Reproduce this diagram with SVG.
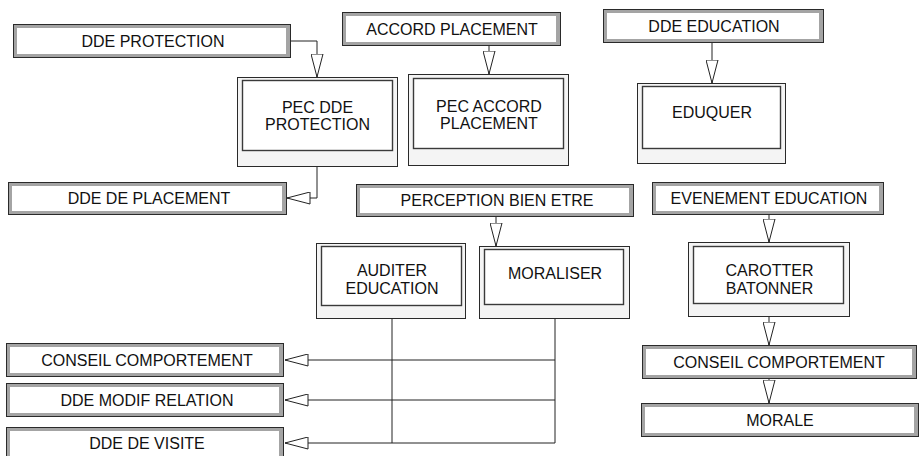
<svg xmlns="http://www.w3.org/2000/svg" width="922" height="456" viewBox="0 0 922 456">
<style>
.ev-o{fill:#a4a4a4;stroke:#2a2a2a;stroke-width:1}
.ev-i{fill:#ffffff;stroke:none}
.pr-o{fill:#f4f4f4;stroke:#2a2a2a;stroke-width:1}
.pr-i{fill:#ffffff;stroke:#3a3a3a;stroke-width:1.4}
text{font-family:"Liberation Sans",Arial,sans-serif;font-size:16px;fill:#111;text-anchor:middle}
.ln{fill:none;stroke:#222;stroke-width:1}
</style>
<defs>
<marker id="arr" viewBox="0 0 24 13" refX="23.5" refY="6.5" markerWidth="24" markerHeight="13" markerUnits="userSpaceOnUse" orient="auto">
<path d="M0.5,0.5 L23.5,6.5 L0.5,12.5 Z" fill="#fff" stroke="#222" stroke-width="1"/>
</marker>
</defs>
<g id="connectors">
<path class="ln" d="M291,41 H317 V77" marker-end="url(#arr)"/>
<path class="ln" d="M489,46 V74" marker-end="url(#arr)"/>
<path class="ln" d="M712,43 V83" marker-end="url(#arr)"/>
<path class="ln" d="M317,167 V198 H287" marker-end="url(#arr)"/>
<path class="ln" d="M496,217 V246" marker-end="url(#arr)"/>
<path class="ln" d="M769,215 V242" marker-end="url(#arr)"/>
<path class="ln" d="M769,317 V345" marker-end="url(#arr)"/>
<path class="ln" d="M769,379 V403" marker-end="url(#arr)"/>
<path class="ln" d="M392,319 V443"/>
<path class="ln" d="M555,319 V443"/>
<path class="ln" d="M555,360 H285" marker-end="url(#arr)"/>
<path class="ln" d="M555,400 H285" marker-end="url(#arr)"/>
<path class="ln" d="M555,443 H285" marker-end="url(#arr)"/>
</g>
<g id="dde-protection"><rect class="ev-o" x="13.5" y="24.5" width="277" height="33"/><rect class="ev-i" x="17" y="28" width="269" height="26"/><text x="153" y="47">DDE PROTECTION</text></g>
<g id="accord-placement"><rect class="ev-o" x="342.5" y="12.5" width="218" height="33"/><rect class="ev-i" x="346" y="16" width="210" height="26"/><text x="452" y="35">ACCORD PLACEMENT</text></g>
<g id="dde-education"><rect class="ev-o" x="603.5" y="9.5" width="220" height="33"/><rect class="ev-i" x="607" y="13" width="212" height="26"/><text x="714" y="32">DDE EDUCATION</text></g>
<g id="dde-de-placement"><rect class="ev-o" x="8.5" y="182.5" width="278" height="32"/><rect class="ev-i" x="12" y="186" width="270" height="25"/><text x="149" y="204">DDE DE PLACEMENT</text></g>
<g id="perception-bien-etre"><rect class="ev-o" x="356.5" y="184.5" width="277" height="32"/><rect class="ev-i" x="360" y="188" width="269" height="25"/><text x="497" y="206">PERCEPTION BIEN ETRE</text></g>
<g id="evenement-education"><rect class="ev-o" x="652.5" y="182.5" width="231" height="32"/><rect class="ev-i" x="656" y="186" width="223" height="25"/><text x="769" y="204">EVENEMENT EDUCATION</text></g>
<g id="conseil-comportement-1"><rect class="ev-o" x="6.5" y="343.5" width="277" height="33"/><rect class="ev-i" x="10" y="347" width="269" height="26"/><text x="147" y="366">CONSEIL COMPORTEMENT</text></g>
<g id="dde-modif-relation"><rect class="ev-o" x="6.5" y="383.5" width="277" height="33"/><rect class="ev-i" x="10" y="387" width="269" height="26"/><text x="147" y="406">DDE MODIF RELATION</text></g>
<g id="dde-de-visite"><rect class="ev-o" x="6.5" y="427.5" width="277" height="33"/><rect class="ev-i" x="10" y="431" width="269" height="26"/><text x="147" y="449">DDE DE VISITE</text></g>
<g id="conseil-comportement-2"><rect class="ev-o" x="642.5" y="345.5" width="274" height="33"/><rect class="ev-i" x="646" y="349" width="266" height="26"/><text x="779" y="368">CONSEIL COMPORTEMENT</text></g>
<g id="morale"><rect class="ev-o" x="641.5" y="403.5" width="277" height="33"/><rect class="ev-i" x="645" y="407" width="269" height="26"/><text x="780" y="426">MORALE</text></g>
<g id="pec-dde-protection"><rect class="pr-o" x="237.5" y="77.5" width="160" height="89"/><rect class="pr-i" x="242.5" y="80.5" width="150" height="70"/><text x="317.5" y="113">PEC DDE</text><text x="317.5" y="130">PROTECTION</text></g>
<g id="pec-accord-placement"><rect class="pr-o" x="408.5" y="74.5" width="160" height="91"/><rect class="pr-i" x="413.5" y="78.5" width="150" height="70"/><text x="489" y="112">PEC ACCORD</text><text x="489" y="129">PLACEMENT</text></g>
<g id="eduquer"><rect class="pr-o" x="637.5" y="83.5" width="148" height="80"/><rect class="pr-i" x="642.5" y="86.5" width="138" height="62"/><text x="712" y="118">EDUQUER</text></g>
<g id="auditer-education"><rect class="pr-o" x="316.5" y="243.5" width="149" height="75"/><rect class="pr-i" x="321.5" y="246.5" width="140" height="59"/><text x="392" y="276">AUDITER</text><text x="392" y="294">EDUCATION</text></g>
<g id="moraliser"><rect class="pr-o" x="479.5" y="246.5" width="150" height="72"/><rect class="pr-i" x="484.5" y="249.5" width="139" height="55"/><text x="555" y="279">MORALISER</text></g>
<g id="carotter-batonner"><rect class="pr-o" x="688.5" y="242.5" width="161" height="74"/><rect class="pr-i" x="693.5" y="246.5" width="150" height="57"/><text x="769.5" y="276">CAROTTER</text><text x="769.5" y="294">BATONNER</text></g>
</svg>
